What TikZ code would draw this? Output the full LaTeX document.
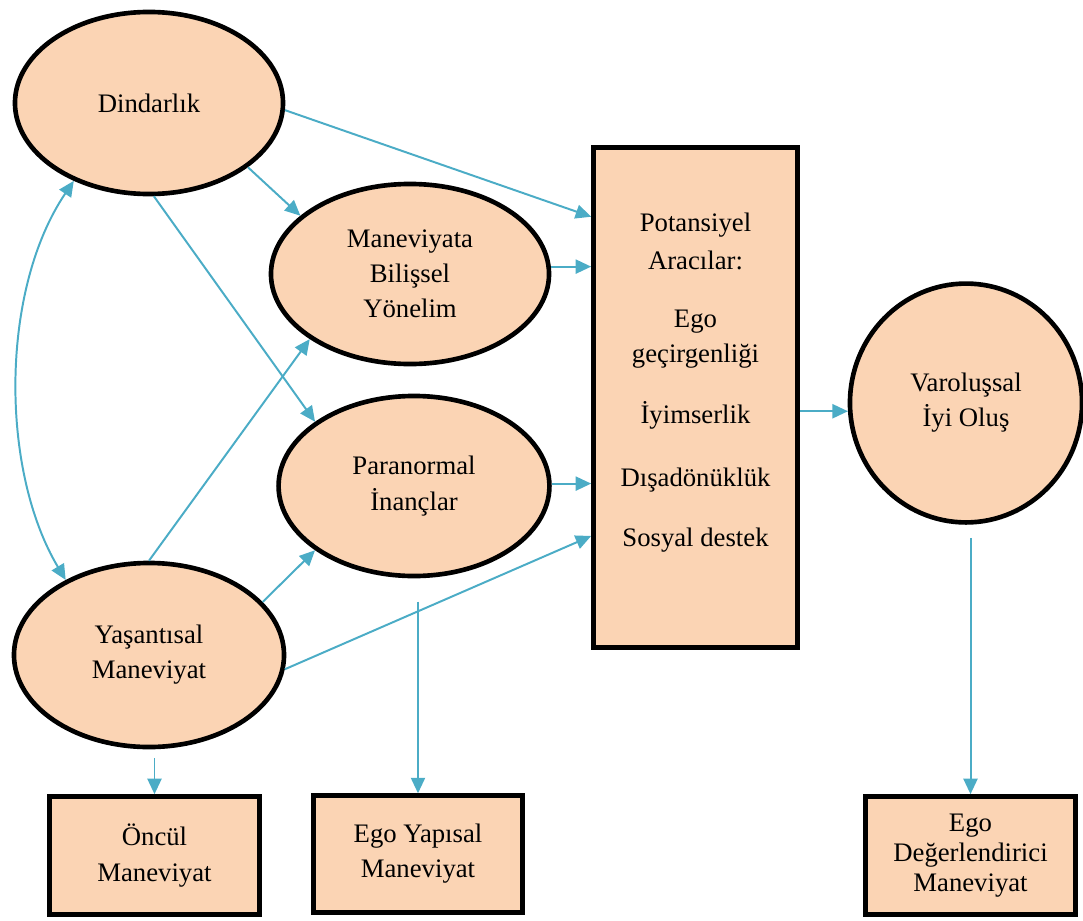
\documentclass[tikz,border=0pt]{standalone}
\usepackage{fontspec}
\setmainfont{Liberation Serif}
\usetikzlibrary{shapes.geometric,arrows.meta}
\definecolor{seftali}{HTML}{FBD4B4}
\definecolor{okmavi}{HTML}{4BACC6}
\begin{document}
\begin{tikzpicture}[x=0.025cm, y=-0.025cm,
	elips/.style={ellipse, draw, line width=3.3pt, fill=seftali, align=center, inner sep=0pt},
	kutu/.style={rectangle, draw, line width=3.3pt, fill=seftali, align=center, inner sep=0pt},
	ok/.style={draw=okmavi, line width=1.4pt, -{Triangle[length=11pt, width=10pt]}},
	cift/.style={ok, {Triangle[length=11pt, width=10pt]}-{Triangle[length=11pt, width=10pt]}},
	font=\fontsize{19}{25}\selectfont]
	\useasboundingbox (0,0) rectangle (1083,920);
	\node[elips, minimum width=6.7cm, minimum height=4.55cm] (dind) at (149,103) {Dindarlık};
	\node[elips, minimum width=6.95cm, minimum height=4.5cm] (mby) at (410,274) {Maneviyata\\Bilişsel\\Yönelim};
	\node[elips, minimum width=6.77cm, minimum height=4.5cm] (para) at (414,486) {Paranormal\\İnançlar};
	\node[elips, minimum width=6.75cm, minimum height=4.6cm] (yas) at (149,655) {Yaşantısal\\Maneviyat};
	\node[elips, minimum width=5.8cm, minimum height=5.97cm] (var) at (966,403) {Varoluşsal\\İyi Oluş};
	\node[kutu, minimum width=5.1cm, minimum height=12.5cm] (arac) at (695.5,397.5) {};
	\node[align=center] (aracyazi) at (695.5,383) {Potansiyel\\[2pt]Aracılar:\\[16pt]Ego\\geçirgenliği\\[18pt]İyimserlik\\[20pt]Dışadönüklük\\[18pt]Sosyal destek};
	\node[kutu, minimum width=5.25cm, minimum height=2.95cm] (oncul) at (154.5,855.5) {Öncül\\Maneviyat};
	\node[kutu, minimum width=5.22cm, minimum height=2.92cm] (egoyap) at (418,854) {Ego Yapısal\\Maneviyat};
	\node[kutu, minimum width=5.25cm, minimum height=2.95cm, font=\fontsize{19}{21.5}\selectfont] (egodeg) at (970.5,855.5) {Ego\\Değerlendirici\\Maneviyat};
	% oklar
	\draw[ok] (dind.-3) -- (arac.120);
	\draw[ok] (dind.-33) -- (mby.152);
	\draw[ok] (dind.-87) -- (para.147);
	\draw[cift] (yas.138) .. controls (0,470) and (0,290) .. (dind.226);
	\draw[ok] (yas.90) -- (mby.213);
	\draw[ok] (yas.25) -- (para.213);
	\draw[ok] (yas.-6) -- (arac.-127);
	\draw[ok] (mby.3) -- (mby.3 -| arac.west);
	\draw[ok] (para.1) -- (para.1 -| arac.west);
	\draw[ok] (var.184 -| arac.east) -- (var.184);
	\draw[ok, shorten <=.33cm] (egodeg.north |- var.south) -- (egodeg.north);
	\draw[ok, shorten <=.58cm] (egoyap.north |- para.south) -- (egoyap.north);
	\draw[ok, shorten <=.22cm] (oncul.north |- yas.south) -- (oncul.north);
\end{tikzpicture}
\end{document}
